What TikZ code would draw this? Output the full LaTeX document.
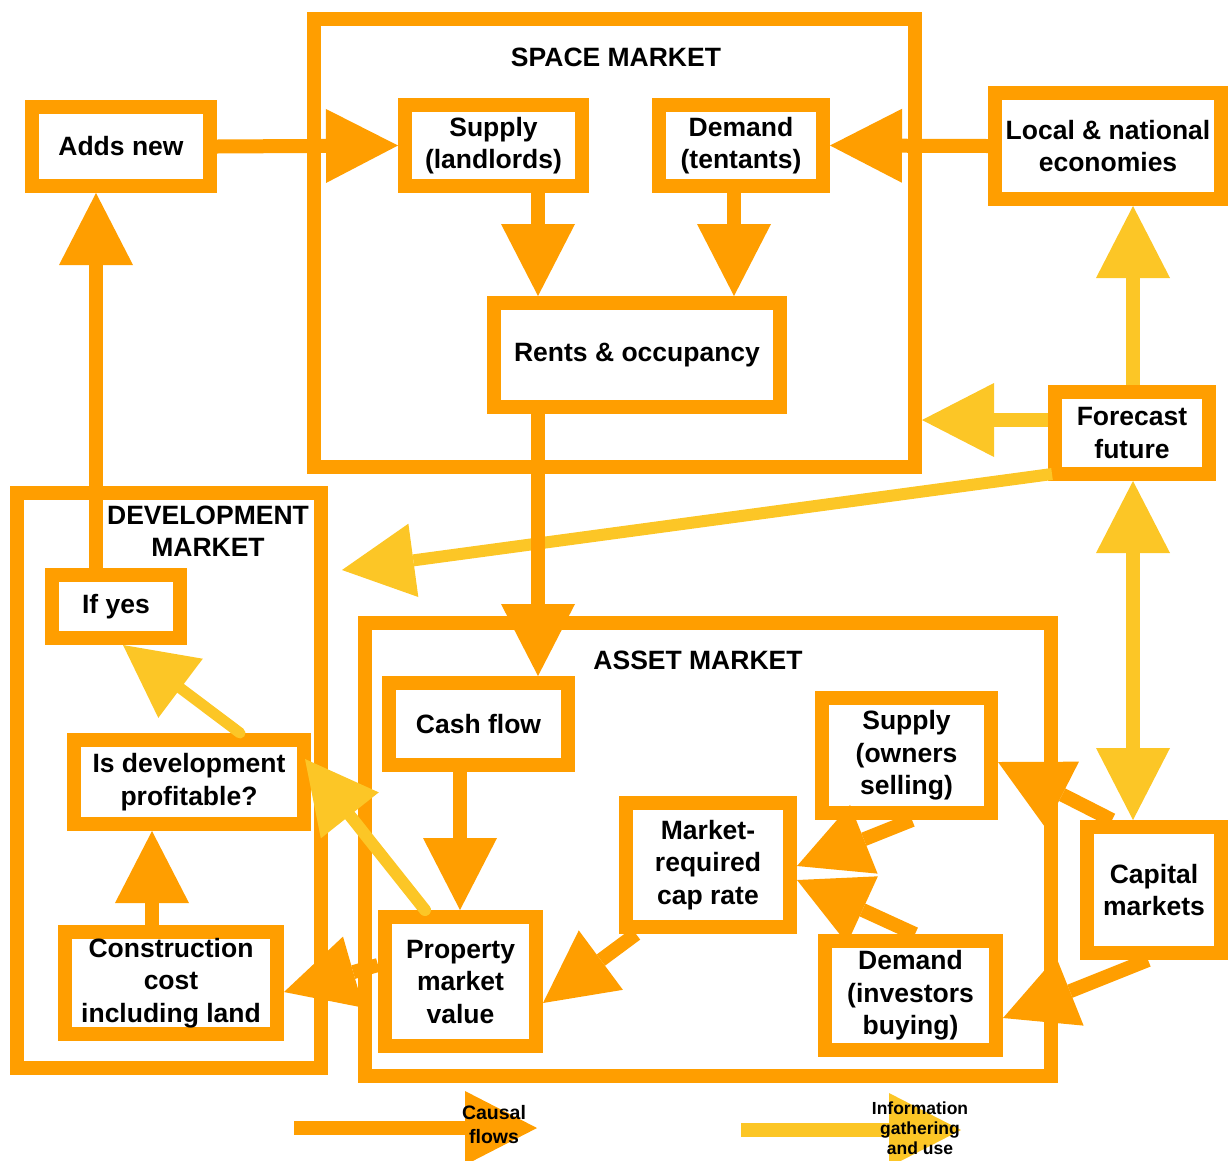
\documentclass[tikz,border=0pt]{standalone}
\usepackage{fontspec}
\setmainfont{Liberation Sans}
\usetikzlibrary{arrows.meta,calc}
\definecolor{org}{RGB}{255,158,0}
\definecolor{ylw}{RGB}{252,198,38}
\tikzset{
  bigtip/.tip={Triangle[width=74pt,length=72pt,line width=0pt]},
  box/.style={draw=org, line width=14pt, align=center, inner sep=0pt,
    font=\bfseries\fontsize{26.5}{32.5}\selectfont},
  frame/.style={draw=org, line width=14pt, inner sep=0pt},
  title/.style={align=center, inner sep=0pt, font=\bfseries\fontsize{26.5}{32}\selectfont},
  causal/.style={draw=org, line width=14pt, -bigtip},
  info/.style={draw=ylw, line width=14pt, -bigtip},
}
\begin{document}
\begin{tikzpicture}[x=1pt,y=-1pt]
\useasboundingbox (0,0) rectangle (1228,1160);
% market frames
\node[frame, minimum width=601pt, minimum height=448pt] (space) at (614.5,243) {};
\node[frame, minimum width=304pt, minimum height=575pt] (dev) at (169,780.5) {};
\node[frame, minimum width=686pt, minimum height=453pt] (asset) at (708,849.5) {};
\node[title] (spacet) at (616,57) {SPACE MARKET};
\node[title] (devt) at (208,531) {DEVELOPMENT\\MARKET};
\node[title] (assett) at (698,660) {ASSET MARKET};
% boxes
\node[box, minimum width=178pt, minimum height=79pt] (addnew) at (121,146.5) {Adds new};
\node[box, minimum width=177pt, minimum height=81pt] (sl) at (493.5,145.5) {Supply\\(landlords)};
\node[box, minimum width=164pt, minimum height=81pt] (dt) at (741,145.5) {Demand\\(tentants)};
\node[box, minimum width=226pt, minimum height=106pt] (econ) at (1108,146) {Local \& national\\economies};
\node[box, minimum width=286pt, minimum height=104pt] (rents) at (637,355) {Rents \& occupancy};
\node[box, minimum width=154pt, minimum height=82pt] (forecast) at (1132,433) {Forecast\\future};
\node[box, minimum width=128pt, minimum height=63pt] (ifyes) at (116,606.5) {If yes};
\node[box, minimum width=230pt, minimum height=84pt] (isdev) at (189,782) {Is development\\profitable?};
\node[box, minimum width=212pt, minimum height=102pt] (cons) at (171,983) {Construction\\cost\\including land};
\node[box, minimum width=179pt, minimum height=82pt] (cash) at (478.5,724) {Cash flow};
\node[box, minimum width=151pt, minimum height=129pt] (pmv) at (460.5,981.5) {Property\\market\\value};
\node[box, minimum width=164pt, minimum height=124pt] (cap) at (708,865) {Market-\\required\\cap rate};
\node[box, minimum width=169pt, minimum height=115pt] (so) at (906.5,755.5) {Supply\\(owners\\selling)};
\node[box, minimum width=171pt, minimum height=109pt] (di) at (910.5,995.5) {Demand\\(investors\\buying)};
\node[box, minimum width=134pt, minimum height=126pt] (capm) at (1154,890) {Capital\\markets};
% information arrows
\draw[info] (forecast.north -| 1133,0) -- (econ.south -| 1133,0);
\draw[info] (forecast.west |- 0,420) -- (space.east |- 0,420);
\draw[info, line width=12pt] ($(forecast.south west)+(4,-7)$) -- ($(dev.east |- 0,570)+(14,0)$);
\draw[info, bigtip-bigtip] (forecast.south -| 1133,0) -- (capm.north -| 1133,0);
\draw[info, line width=11pt, line cap=round] (isdev.north -| 240,0) -- (ifyes.south -| 123,0);
\draw[info, line width=12pt, line cap=round] (pmv.north -| 425,0) -- ($(isdev.east |- 0,759)+(-6,0)$);
% causal arrows
\draw[causal] (addnew.east) -- (sl.west);
\draw[causal] (econ.west) -- (dt.east);
\draw[causal] (sl.south -| 538,0) -- (rents.north -| 538,0);
\draw[causal] (dt.south -| 734,0) -- (rents.north -| 734,0);
\draw[causal] (rents.south -| 538,0) -- (cash.north -| 538,0);
\draw[causal] (ifyes.north -| 96,0) -- (addnew.south -| 96,0);
\draw[causal] (cons.north -| 152,0) -- (isdev.south -| 152,0);
\draw[causal] (cash.south -| 460,0) -- (pmv.north -| 460,0);
\draw[causal] (pmv.west |- 0,965) -- (cons.east |- 0,992);
\draw[causal] (cap.south -| 636,0) -- (pmv.east |- 0,1003);
\draw[causal] (so.south -| 912,0) -- (cap.east |- 0,866);
\draw[causal] (di.north -| 915,0) -- (cap.east |- 0,880);
\draw[causal] (capm.north -| 1112,0) -- (so.east |- 0,762);
\draw[causal] (capm.south -| 1148,0) -- (di.east |- 0,1018);
% legend
\coordinate (lc1) at (294,1128);
\coordinate (lc2) at (537,1128);
\draw[causal] (lc1) -- (lc2);
\coordinate (li1) at (741,1130);
\coordinate (li2) at (961,1130);
\draw[info] (li1) -- (li2);
\node[align=center, inner sep=0pt, font=\bfseries\fontsize{19.5}{24}\selectfont] (lct) at (494,1125) {Causal\\flows};
\node[align=center, inner sep=0pt, font=\bfseries\fontsize{17.5}{20}\selectfont] (lit) at (920,1128) {Information\\gathering\\and use};
\end{tikzpicture}
\end{document}
